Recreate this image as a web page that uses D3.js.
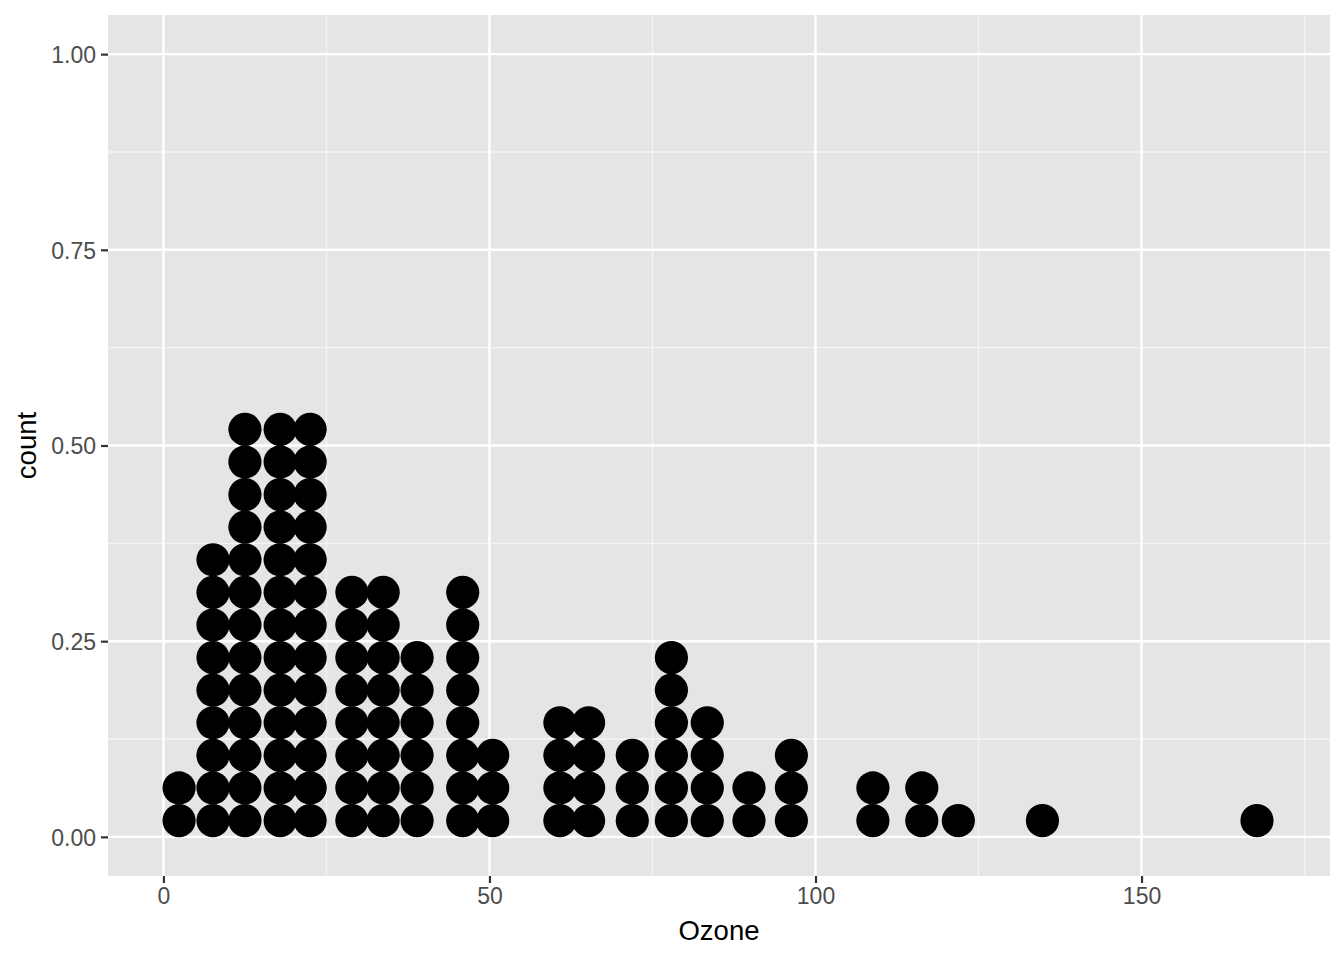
<!DOCTYPE html>
<html>
<head>
<meta charset="utf-8">
<script src="https://cdn.jsdelivr.net/npm/d3@7"></script>
<style>
  body { margin: 0; background: #ffffff; }
  svg { display: block; }
</style>
</head>
<body>
<div id="graf"></div>
<script>
// Dotplot de Ozone (airquality)

// datos: centro de cada bin y cuantos puntos apila
ozoneBins = [2.4, 7.6, 12.5, 17.9, 22.5, 28.9, 33.7, 38.9, 45.9, 50.5,
             60.8, 65.2, 71.9, 77.9, 83.4, 89.8, 96.3, 108.8, 116.3, 121.9,
             134.8, 167.7]
binCounts = [2, 9, 13, 13, 13, 8, 8, 6, 8, 3,
             4, 4, 3, 6, 4, 2, 3, 2, 2, 1,
             1, 1]
xTicks = [0, 50, 100, 150]
xMinor = [25, 75, 125, 175]
yTicks = [0, 0.25, 0.5, 0.75, 1]
yMinor = [0.125, 0.375, 0.625, 0.875]

ancho_total = 1344
alto_total  = 960
margins = { top: 15, left: 108, right: 14, bottom: 84 }
ancho = ancho_total - margins.left - margins.right
alto  = alto_total - margins.top - margins.bottom

svg = d3.select('#graf').append('svg')
        .attr('width', ancho_total)
        .attr('height', alto_total)

g = svg.append('g')
       .attr('transform', `translate(${ margins.left }, ${ margins.top })`)

// Escaladores
x = d3.scaleLinear().domain([-8.5, 178.9]).range([0, ancho])
y = d3.scaleLinear().domain([-0.05, 1.05]).range([alto, 0])

radio = 16.6
paso  = 32.6   // separacion vertical entre puntos apilados

// panel
g.append('rect')
  .attr('width', ancho)
  .attr('height', alto)
  .attr('fill', '#e5e5e5')

// grid menor
g.selectAll('.xminor').data(xMinor).enter().append('line')
  .attr('x1', d => x(d)).attr('x2', d => x(d))
  .attr('y1', 0).attr('y2', alto)
  .attr('stroke', '#f4f4f4').attr('stroke-width', 1.3)
g.selectAll('.yminor').data(yMinor).enter().append('line')
  .attr('x1', 0).attr('x2', ancho)
  .attr('y1', d => y(d)).attr('y2', d => y(d))
  .attr('stroke', '#f4f4f4').attr('stroke-width', 1.3)

// grid mayor
g.selectAll('.xmajor').data(xTicks).enter().append('line')
  .attr('x1', d => x(d)).attr('x2', d => x(d))
  .attr('y1', 0).attr('y2', alto)
  .attr('stroke', '#ffffff').attr('stroke-width', 2.4)
g.selectAll('.ymajor').data(yTicks).enter().append('line')
  .attr('x1', 0).attr('x2', ancho)
  .attr('y1', d => y(d)).attr('y2', d => y(d))
  .attr('stroke', '#ffffff').attr('stroke-width', 2.4)

// puntos
puntos = []
ozoneBins.forEach((o, i) => {
  for (k = 0; k < binCounts[i]; k++) puntos.push({ ozone: o, k: k })
})

g.selectAll('circle')
  .data(puntos)
  .enter()
  .append('circle')
    .attr('cx', d => x(d.ozone))
    .attr('cy', d => y(0) - paso * (d.k + 0.5))
    .attr('r', radio)
    .attr('fill', '#000000')

// ejes
fmtY = d3.format('.2f')

xAxis = g.append('g')
  .attr('transform', `translate(0, ${ alto })`)
  .call(d3.axisBottom(x).tickValues(xTicks).tickSize(7).tickPadding(5))
yAxis = g.append('g')
  .call(d3.axisLeft(y).tickValues(yTicks).tickFormat(fmtY).tickSize(7).tickPadding(5))

;[xAxis, yAxis].forEach(a => {
  a.select('.domain').remove()
  a.selectAll('.tick line').attr('stroke', '#333333').attr('stroke-width', 2.2)
  a.selectAll('.tick text')
    .attr('fill', '#4d4d4d')
    .attr('font-family', 'Liberation Sans, Arial, sans-serif')
    .attr('font-size', '23px')
})
xAxis.selectAll('.tick text').attr('dy', '0.71em')
yAxis.selectAll('.tick text').attr('dy', '0.36em')

// titulos
svg.append('text')
  .attr('x', margins.left + ancho / 2)
  .attr('y', 940)
  .attr('text-anchor', 'middle')
  .attr('font-family', 'Liberation Sans, Arial, sans-serif')
  .attr('font-size', '27.5px')
  .attr('fill', '#000000')
  .text('Ozone')

svg.append('text')
  .attr('transform', `translate(36, ${ margins.top + alto / 2 }) rotate(-90)`)
  .attr('text-anchor', 'middle')
  .attr('font-family', 'Liberation Sans, Arial, sans-serif')
  .attr('font-size', '27.5px')
  .attr('fill', '#000000')
  .text('count')
</script>
</body>
</html>
